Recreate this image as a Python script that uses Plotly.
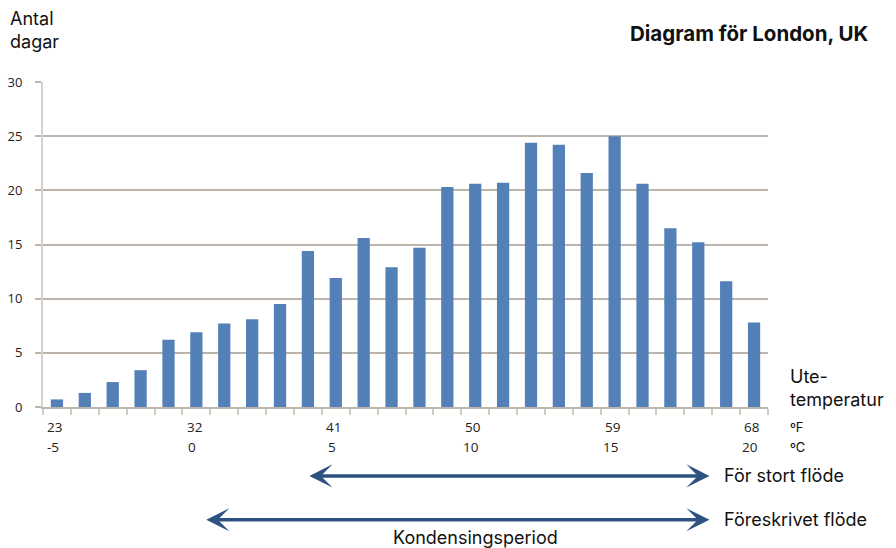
import plotly.graph_objects as go

# Outdoor temperature classes (°C) and number of days per class
temps_c = list(range(-5, 21))
days = [0.7, 1.3, 2.3, 3.4, 6.2, 6.9, 7.7, 8.1, 9.5, 14.4, 11.9, 15.6, 12.9,
        14.7, 20.3, 20.6, 20.7, 24.4, 24.2, 21.6, 25.0, 20.6, 16.5, 15.2, 11.6, 7.8]

# Labelled temperatures, Celsius and Fahrenheit
label_c = [-5, 0, 5, 10, 15, 20]
label_f = [23, 32, 41, 50, 59, 68]

# Flow ranges (°C): start, end, label
flow_ranges = [
    (4.0, 18.4, "För stort flöde"),
    (0.3, 18.4, "Föreskrivet flöde"),
]
period_label = "Kondensingsperiod"
period_center = 10

BAR = "#5480b8"
GRID = "#bdb4ab"
ARROW = "#2d5282"
TEXT_FONT = "Inter"
NUM_FONT = "Open Sans"

fig = go.Figure(go.Bar(x=temps_c, y=days, width=0.44,
                       marker_color=BAR, marker_line_width=0))

boundaries = [t - 0.5 for t in temps_c] + [temps_c[-1] + 0.5]

fig.update_layout(
    width=896, height=548,
    margin=dict(l=43, r=128, t=82, b=141),
    plot_bgcolor="white", paper_bgcolor="white",
    showlegend=False,
    xaxis=dict(range=[boundaries[0], boundaries[-1]], showgrid=False, zeroline=False,
               showline=True, linecolor=GRID, linewidth=2, automargin=False,
               ticks="outside", tickvals=boundaries, ticklen=6,
               tickcolor="#d3ccc5", tickwidth=1.5, showticklabels=False),
    yaxis=dict(range=[0, 30], tick0=0, dtick=5, showgrid=True, gridcolor=GRID,
               gridwidth=2, zeroline=False, showline=True, linecolor="#d8d2cc",
               linewidth=2, ticks="outside", ticklen=6, tickcolor=GRID,
               tickwidth=1.5, ticklabelstandoff=10, automargin=False,
               tickfont=dict(family=NUM_FONT, size=13, color="#222")),
)

ann = []
# Two-row temperature labels under the axis
for c, f in zip(label_c, label_f):
    ann.append(dict(x=c, xref="x", y=-0.062, yref="paper", text=str(f),
                    showarrow=False, xanchor="center", yanchor="middle", xshift=-2,
                    font=dict(family=NUM_FONT, size=13.5, color="#222")))
    ann.append(dict(x=c, xref="x", y=-0.123, yref="paper", text=str(c),
                    showarrow=False, xanchor="center", yanchor="middle", xshift=-4,
                    font=dict(family=NUM_FONT, size=13.5, color="#222")))

ann += [
    dict(x=1.028, xref="paper", y=-0.062, yref="paper", text="ºF", showarrow=False,
         xanchor="left", yanchor="middle", font=dict(family=TEXT_FONT, size=13, color="#111")),
    dict(x=1.028, xref="paper", y=-0.123, yref="paper", text="ºC", showarrow=False,
         xanchor="left", yanchor="middle", font=dict(family=TEXT_FONT, size=13, color="#111")),
    dict(x=1.028, xref="paper", y=0.058, yref="paper", text="Ute-<br>temperatur",
         showarrow=False, xanchor="left", yanchor="middle", align="left",
         font=dict(family=TEXT_FONT, size=18, color="#111")),
    dict(x=-0.048, xref="paper", y=1.16, yref="paper", text="Antal<br>dagar",
         showarrow=False, xanchor="left", yanchor="middle", align="left",
         font=dict(family=TEXT_FONT, size=18, color="#111")),
    dict(x=1.141, xref="paper", y=1.15, yref="paper", text="<b>Diagram för London, UK</b>",
         showarrow=False, xanchor="right", yanchor="middle",
         font=dict(family=TEXT_FONT, size=20.5, color="#111")),
]

# Double-headed range arrows with their labels
arrow_y = [-0.212, -0.347]
for (start, end, label), yy in zip(flow_ranges, arrow_y):
    ann.append(dict(x=end, xref="x", y=yy, yref="paper", ax=start, axref="x",
                    ay=0, ayref="pixel", text="", showarrow=True,
                    arrowside="end+start", arrowhead=3, startarrowhead=3,
                    arrowsize=1.1, startarrowsize=1.1, arrowwidth=3.5,
                    arrowcolor=ARROW, standoff=0, startstandoff=0))
    ann.append(dict(x=1.0, xref="paper", y=yy, yref="paper", xshift=-46,
                    text=label, showarrow=False, xanchor="left", yanchor="middle",
                    font=dict(family=TEXT_FONT, size=18, color="#111")))

ann.append(dict(x=period_center, xref="x", y=-0.4, yref="paper", text=period_label,
                showarrow=False, xanchor="center", yanchor="middle",
                font=dict(family=TEXT_FONT, size=18, color="#111")))

fig.update_layout(annotations=ann)
fig.write_html("out.html")
